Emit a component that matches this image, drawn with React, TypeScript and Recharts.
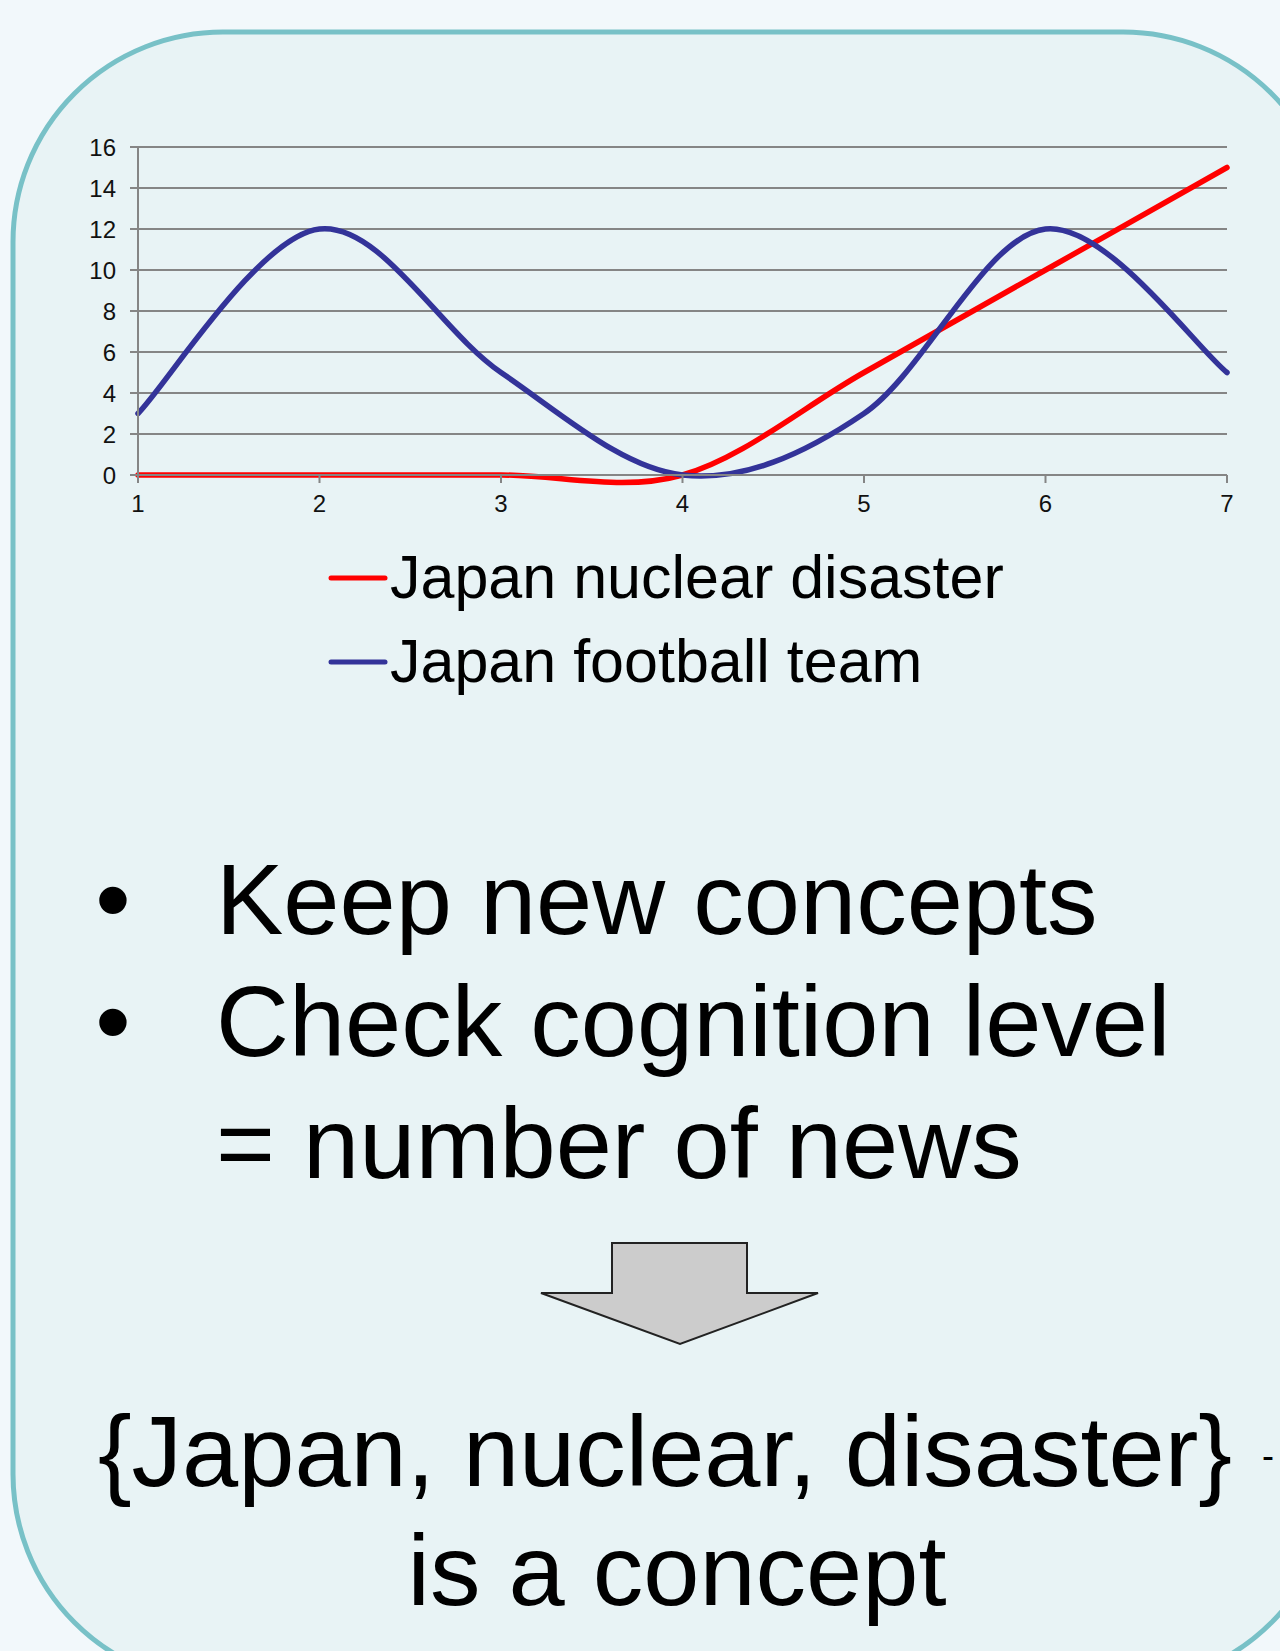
import { LineChart, Line, XAxis, YAxis, CartesianGrid, Legend } from "recharts";

const xValues = [1, 2, 3, 4, 5, 6, 7];
const nuclearValues = [0, 0, 0, 0, 5, 10, 15];
const footballValues = [3, 12, 5, 0, 3, 12, 5];
const yTicks = [0, 2, 4, 6, 8, 10, 12, 14, 16];
const seriesNames = ["Japan nuclear disaster", "Japan football team"];
const seriesColors = ["#ff0000", "#333399"];

const data = xValues.map((x, i) => ({
  x,
  nuclear: nuclearValues[i],
  football: footballValues[i],
}));

const FONT = '"Liberation Sans", Arial, sans-serif';

// Excel-like smoothed line (Catmull-Rom through the points)
function smoothCurve(context: any) {
  let pts: number[][] = [];
  return {
    areaStart() {},
    areaEnd() {},
    lineStart() {
      pts = [];
    },
    lineEnd() {
      if (!pts.length) return;
      context.moveTo(pts[0][0], pts[0][1]);
      for (let i = 0; i < pts.length - 1; i++) {
        const p0 = pts[Math.max(i - 1, 0)];
        const p1 = pts[i];
        const p2 = pts[i + 1];
        const p3 = pts[Math.min(i + 2, pts.length - 1)];
        context.bezierCurveTo(
          p1[0] + (p2[0] - p0[0]) / 6,
          p1[1] + (p2[1] - p0[1]) / 6,
          p2[0] - (p3[0] - p1[0]) / 6,
          p2[1] - (p3[1] - p1[1]) / 6,
          p2[0],
          p2[1]
        );
      }
    },
    point(x: number, y: number) {
      pts.push([+x, +y]);
    },
  };
}

function LegendBox(props: any) {
  const items = [...(props.payload || [])].sort(
    (a: any, b: any) => seriesNames.indexOf(a.value) - seriesNames.indexOf(b.value)
  );
  return (
    <svg width={700} height={170}>
      {items.map((item: any, i: number) => (
        <g key={item.value}>
          <line
            x1={13}
            x2={67}
            y1={40 + i * 84}
            y2={40 + i * 84}
            stroke={item.color}
            strokeWidth={5}
            strokeLinecap="round"
          />
          <text x={72} y={60 + i * 84} fontSize={61} fontFamily={FONT} fill="#000">
            {item.value}
          </text>
        </g>
      ))}
    </svg>
  );
}

export default function App() {
  return (
    <div
      style={{
        position: "absolute",
        left: 0,
        top: 0,
        width: 1280,
        height: 1651,
        overflow: "hidden",
        background: "#f2f8fb",
        fontFamily: FONT,
      }}
    >
      <svg width={1280} height={1651} style={{ position: "absolute", left: 0, top: 0 }}>
        <rect x={13} y={32} width={1320} height={1652} rx={210} ry={210} fill="#e8f3f5" stroke="#78c1c7" strokeWidth={5} />
        <g fontFamily={FONT} fill="#000" fontSize={101}>
          <text x={113} y={934} textAnchor="middle">•</text>
          <text x={216} y={934}>Keep new concepts</text>
          <text x={113} y={1056} textAnchor="middle">•</text>
          <text x={216} y={1056}>Check cognition level</text>
          <text x={216} y={1178}>= number of news</text>
          <text x={665} y={1486} textAnchor="middle">{"{Japan, nuclear, disaster}"}</text>
          <text x={677} y={1605} textAnchor="middle">is a concept</text>
        </g>
        <text x={1262} y={1468} fontSize={36} fontFamily={FONT} fill="#000">-</text>
        <polygon
          points="612,1243 747,1243 747,1293 818,1293 680,1344 541,1293 612,1293"
          fill="#cccccc"
          stroke="#222"
          strokeWidth={2}
        />
      </svg>
      <div style={{ position: "absolute", left: 0, top: 0 }}>
        <LineChart
          width={1280}
          height={720}
          data={data}
          margin={{ top: 147, right: 53, left: 0, bottom: 205 }}
        >
          <CartesianGrid horizontal vertical={false} stroke="#858585" strokeWidth={2} />
          <XAxis
            dataKey="x"
            type="number"
            domain={[1, 7]}
            ticks={xValues}
            height={40}
            stroke="#858585"
            strokeWidth={2}
            tickSize={8}
            tickMargin={12}
            tick={{ fill: "#111", fontSize: 24, fontFamily: FONT }}
          />
          <YAxis
            type="number"
            domain={[0, 16]}
            ticks={yTicks}
            width={138}
            stroke="#858585"
            strokeWidth={2}
            tickSize={8}
            tickMargin={14}
            tick={{ fill: "#111", fontSize: 24, fontFamily: FONT }}
          />
          <Line
            dataKey="nuclear"
            name={seriesNames[0]}
            stroke={seriesColors[0]}
            strokeWidth={5.5}
            strokeLinecap="round"
            type={smoothCurve as any}
            dot={false}
            activeDot={false}
            isAnimationActive={false}
          />
          <Line
            dataKey="football"
            name={seriesNames[1]}
            stroke={seriesColors[1]}
            strokeWidth={5.5}
            strokeLinecap="round"
            type={smoothCurve as any}
            dot={false}
            activeDot={false}
            isAnimationActive={false}
          />
          <Legend
            layout="vertical"
            align="center"
            verticalAlign="middle"
            wrapperStyle={{ left: 318, top: 538, width: 700, height: 170 }}
            content={<LegendBox />}
          />
        </LineChart>
      </div>
    </div>
  );
}
